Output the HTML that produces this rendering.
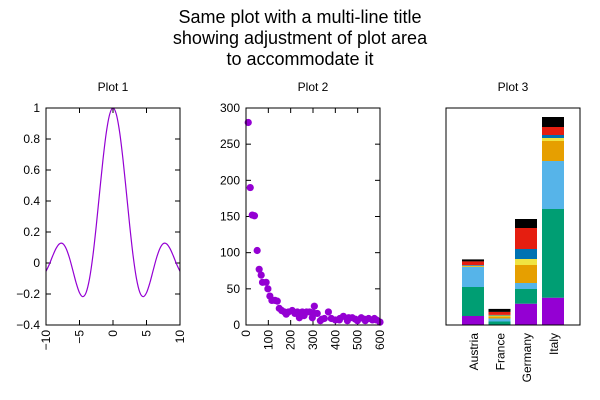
<!DOCTYPE html>
<html><head><meta charset="utf-8"><style>
body{margin:0;background:#fff}
svg{display:block;font-family:"Liberation Sans",sans-serif}
</style></head><body>
<svg id="chart" width="600" height="400" viewBox="0 0 600 400" xmlns="http://www.w3.org/2000/svg">
<g font-size="18" text-anchor="middle" fill="#000">
<text x="300" y="23">Same plot with a multi-line title</text>
<text x="300" y="44">showing adjustment of plot area</text>
<text x="300" y="65">to accommodate it</text>
</g>
<g id="p1"></g>
<g id="p2"></g>
<g id="p3"></g>
</svg>
<script>
// Plot 1 data
const p1X = [-10,-9.5,-9,-8.5,-8,-7.5,-7,-6.5,-6,-5.5,-5,-4.5,-4,-3.5,-3,-2.5,-2,-1.5,-1,-0.5,0,0.5,1,1.5,2,2.5,3,3.5,4,4.5,5,5.5,6,6.5,7,7.5,8,8.5,9,9.5,10];
const p1Y = [-0.0544,-0.0079,0.0458,0.0939,0.1237,0.1251,0.0939,0.0331,-0.0466,-0.1283,-0.1918,-0.2172,-0.1892,-0.1002,0.0470,0.2394,0.4546,0.6650,0.8415,0.9589,1,0.9589,0.8415,0.6650,0.4546,0.2394,0.0470,-0.1002,-0.1892,-0.2172,-0.1918,-0.1283,-0.0466,0.0331,0.0939,0.1251,0.1237,0.0939,0.0458,-0.0079,-0.0544];
const p1XTicks = [-10,-5,0,5,10];
const p1XLabels = ["\u221210","\u22125","0","5","10"];
const p1YTicks = [-0.4,-0.2,0,0.2,0.4,0.6,0.8,1];
const p1YLabels = ["\u22120.4","\u22120.2","0","0.2","0.4","0.6","0.8","1"];
// Plot 2 data
const p2X = [10,19,28,38,50,59,68,74,90,98,107,116,130,140,149,160,172,190,207,219,230,239,252,271,285,297,306,319,333,351,369,382,400,418,436,454,476,499,516,534,549,566,584,600,180,260,300,340,420,460,490,530,575];
const p2Y = [280,190,152,151,103,77,69,59,59,50,40,34,34,33,23,20,18,18,20,16,18,10,18,18,18,10,26,16,6,9,18,9,7,7,12,6,10,6,10,6,9,7,7,4,15,13,17,8,9,10,8,8,9];
const p2XTicks = [0,100,200,300,400,500,600];
const p2YTicks = [0,50,100,150,200,250,300];
// Plot 3 data
const p3Cats = ["Austria","France","Germany","Italy"];
const p3Colors = ["#9400d3","#009e73","#56b4e9","#e69f00","#f0e442","#0072b2","#e51e10","#000000"];
const p3S0 = [9,0.5,21.3,27.3];
const p3S1 = [29,3,14.7,88.7];
const p3S2 = [20,3,6,48];
const p3S3 = [0.6,2,18,20];
const p3S4 = [0.6,1,6,3];
const p3S5 = [0.7,0.6,10,3];
const p3S6 = [3.7,3,21,8];
const p3S7 = [2,3,9,10];
const p3Series = [p3S0,p3S1,p3S2,p3S3,p3S4,p3S5,p3S6,p3S7];

const NS="http://www.w3.org/2000/svg";
function mk(parent,tag,attrs,text){const e=document.createElementNS(NS,tag);for(const k in attrs)e.setAttribute(k,attrs[k]);if(text!==undefined)e.textContent=text;parent.appendChild(e);return e;}

const T=108,B=325;
function frame(g,L,R){
  const f=mk(g,'rect',{x:L,y:T,width:R-L,height:B-T,fill:'none',stroke:'#000','stroke-width':1});
  
  
}
function title(g,cx,t){
  const e=mk(g,'text',{x:cx,y:91,'font-size':12,'text-anchor':'middle'},t);
  
  
}
function axes(g,L,R,xmin,xmax,ymin,ymax,xt,xl,yt,yl){
  const sx=v=>L+(v-xmin)/(xmax-xmin)*(R-L), sy=v=>B-(v-ymin)/(ymax-ymin)*(B-T);
  xt.forEach((v,i)=>{const x=sx(v);
    mk(g,'line',{x1:x,y1:B,x2:x,y2:B-5,stroke:'#000'});mk(g,'line',{x1:x,y1:T,x2:x,y2:T+5,stroke:'#000'});
    const t=mk(g,'text',{x:0,y:0,'font-size':12,'text-anchor':'end',transform:`translate(${x+4},${B+5}) rotate(-90)`},xl[i]);
    
    });
  yt.forEach((v,i)=>{const y=sy(v);
    mk(g,'line',{x1:L,y1:y,x2:L+5,y2:y,stroke:'#000'});mk(g,'line',{x1:R,y1:y,x2:R-5,y2:y,stroke:'#000'});
    const t=mk(g,'text',{x:L-6,y:y+4,'font-size':12,'text-anchor':'end'},yl[i]);
    
    });
  return [sx,sy];
}
// Plot 1
(function(){const g=document.getElementById('p1');const L=46,R=180;
  title(g,113,'Plot 1');
  const [sx,sy]=axes(g,L,R,-10,10,-0.4,1,p1XTicks,p1XLabels,p1YTicks,p1YLabels);
  const pts=p1X.map((x,i)=>[sx(x),sy(p1Y[i])]);
  let d='M'+pts[0][0].toFixed(2)+' '+pts[0][1].toFixed(2);
  for(let i=0;i<pts.length-1;i++){
    const p0=pts[Math.max(0,i-1)],p1=pts[i],p2=pts[i+1],p3=pts[Math.min(pts.length-1,i+2)];
    const c1=[p1[0]+(p2[0]-p0[0])/6,p1[1]+(p2[1]-p0[1])/6];
    const c2=[p2[0]-(p3[0]-p1[0])/6,p2[1]-(p3[1]-p1[1])/6];
    d+=` C${c1[0].toFixed(2)} ${c1[1].toFixed(2)} ${c2[0].toFixed(2)} ${c2[1].toFixed(2)} ${p2[0].toFixed(2)} ${p2[1].toFixed(2)}`;
  }
  const p=mk(g,'path',{d:d,fill:'none',stroke:'#9400d3','stroke-width':1.2});
  
  
  frame(g,L,R);})();
// Plot 2
(function(){const g=document.getElementById('p2');const L=246,R=380;
  title(g,313,'Plot 2');
  const [sx,sy]=axes(g,L,R,0,600,0,300,p2XTicks,p2XTicks.map(String),p2YTicks,p2YTicks.map(String));
  p2X.forEach((x,i)=>{const c=mk(g,'circle',{cx:sx(x),cy:sy(p2Y[i]),r:3.6,fill:'#9400d3'});
    
    });
  frame(g,L,R);})();
// Plot 3
(function(){const g=document.getElementById('p3');const L=446,R=580;
  title(g,513,'Plot 3');
  const ymax=217, sy=v=>B-v/ymax*(B-T);
  const centers=[473,499.5,526,553], bw=22;
  p3Cats.forEach((c,i)=>{let acc=0;
    p3Series.forEach((s,k)=>{const y0=sy(acc);acc+=s[i];const y1=sy(acc);
      const r=mk(g,'rect',{x:centers[i]-bw/2,y:y1,width:bw,height:Math.max(0,y0-y1),fill:p3Colors[k]});
      
      });
    const t=mk(g,'text',{x:0,y:0,'font-size':12,'text-anchor':'end',transform:`translate(${centers[i]+5},${B+8}) rotate(-90)`},c);
    
    });
  frame(g,L,R);})();
</script>
</body></html>
